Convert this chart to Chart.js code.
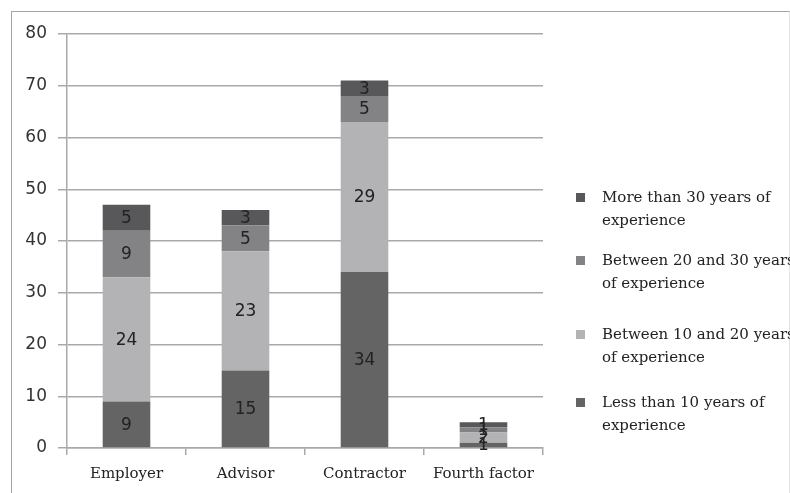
<!DOCTYPE html>
<html>
<head>
<meta charset="utf-8">
<script src="https://cdn.jsdelivr.net/npm/chart.js@4.4.0/dist/chart.umd.min.js"></script>
<style>
  html, body { margin: 0; padding: 0; background: #fff; }
  #wrap { position: relative; width: 790px; height: 493px; overflow: hidden; }
  #frame { position: absolute; left: 11px; top: 11px; width: 777px; height: 490px;
           border: 1px solid #a4a4a4; border-right-color: #e4e4e4; }
  #chart { position: absolute; left: 0; top: 0; }
  .item { position: absolute; left: 576px; font: 15px "DejaVu Serif", serif; color: #222; line-height: 23px; }
  .swatch { position: absolute; left: 0; top: 7px; width: 9px; height: 9px; }
  .text { position: absolute; left: 26px; top: 0; white-space: nowrap; }
</style>
</head>
<body>
<div id="wrap">
  <div id="frame"></div>
  <canvas id="chart" width="790" height="493"></canvas>
  <div id="legend"></div>
</div>
<script>
// Survey respondents by role and years of experience
const categories = ['Employer', 'Advisor', 'Contractor', 'Fourth factor'];
const lessThan10 = [9, 15, 34, 1];
const between10and20 = [24, 23, 29, 2];
const between20and30 = [9, 5, 5, 1];
const moreThan30 = [5, 3, 3, 1];
const yTicks = [0, 10, 20, 30, 40, 50, 60, 70, 80];

const seriesNames = [
  'Less than 10 years of experience',
  'Between 10 and 20 years of experience',
  'Between 20 and 30 years of experience',
  'More than 30 years of experience'
];
const legendLines = [
  ['Less than 10 years of', 'experience'],
  ['Between 10 and 20 years', 'of experience'],
  ['Between 20 and 30 years', 'of experience'],
  ['More than 30 years of', 'experience']
];
const seriesColors = ['#646464', '#b3b3b5', '#838385', '#58585a'];

// Value written in the middle of every stacked segment
const segmentLabels = {
  id: 'segmentLabels',
  afterDatasetsDraw(chart) {
    const ctx = chart.ctx;
    ctx.save();
    ctx.font = '17px "DejaVu Sans"';
    ctx.fillStyle = '#222';
    ctx.textAlign = 'center';
    ctx.textBaseline = 'middle';
    chart.data.datasets.forEach((ds, i) => {
      chart.getDatasetMeta(i).data.forEach((bar, j) => {
        const p = bar.getCenterPoint();
        ctx.fillText(String(ds.data[j]), p.x, p.y + 1);
      });
    });
    ctx.restore();
  }
};

const values = [lessThan10, between10and20, between20and30, moreThan30];
const gridColor = '#a9a9a9';

const chart = new Chart(document.getElementById('chart'), {
  type: 'bar',
  data: {
    labels: categories,
    datasets: values.map((v, i) => ({
      label: seriesNames[i],
      data: v,
      backgroundColor: seriesColors[i],
      borderWidth: 0,
      barPercentage: 0.4,
      categoryPercentage: 1.0
    }))
  },
  options: {
    responsive: false,
    animation: false,
    devicePixelRatio: 1,
    layout: { padding: { left: 0, right: 247, top: 34, bottom: 0 } },
    plugins: { legend: { display: false }, tooltip: { enabled: false } },
    scales: {
      x: {
        stacked: true,
        grid: { offset: true, drawOnChartArea: false, tickLength: 7, color: gridColor, lineWidth: 1.5 },
        border: { color: gridColor, width: 1.5 },
        ticks: { font: { family: 'DejaVu Serif', size: 15 }, color: '#222', padding: 10, maxRotation: 0 },
        afterFit(scale) { scale.height = 45; }
      },
      y: {
        stacked: true,
        min: 0,
        max: 80,
        afterBuildTicks(scale) { scale.ticks = yTicks.map(v => ({ value: v })); },
        ticks: { font: { family: 'DejaVu Sans', size: 17 }, color: '#333', padding: 11 },
        grid: { tickLength: 9, color: gridColor, lineWidth: 1.5 },
        border: { color: gridColor, width: 1.5 },
        afterFit(scale) { scale.width = 67; }
      }
    }
  },
  plugins: [segmentLabels]
});

// Legend on the right, top-most series first
const legendTops = [391, 323, 249, 186];
const legend = document.getElementById('legend');
for (let i = values.length - 1; i >= 0; i--) {
  const item = document.createElement('div');
  item.className = 'item';
  item.style.top = legendTops[i] + 'px';
  const sw = document.createElement('div');
  sw.className = 'swatch';
  sw.style.background = chart.data.datasets[i].backgroundColor;
  const tx = document.createElement('div');
  tx.className = 'text';
  tx.innerHTML = legendLines[i].join('<br>');
  item.appendChild(sw);
  item.appendChild(tx);
  legend.appendChild(item);
}
</script>
</body>
</html>
